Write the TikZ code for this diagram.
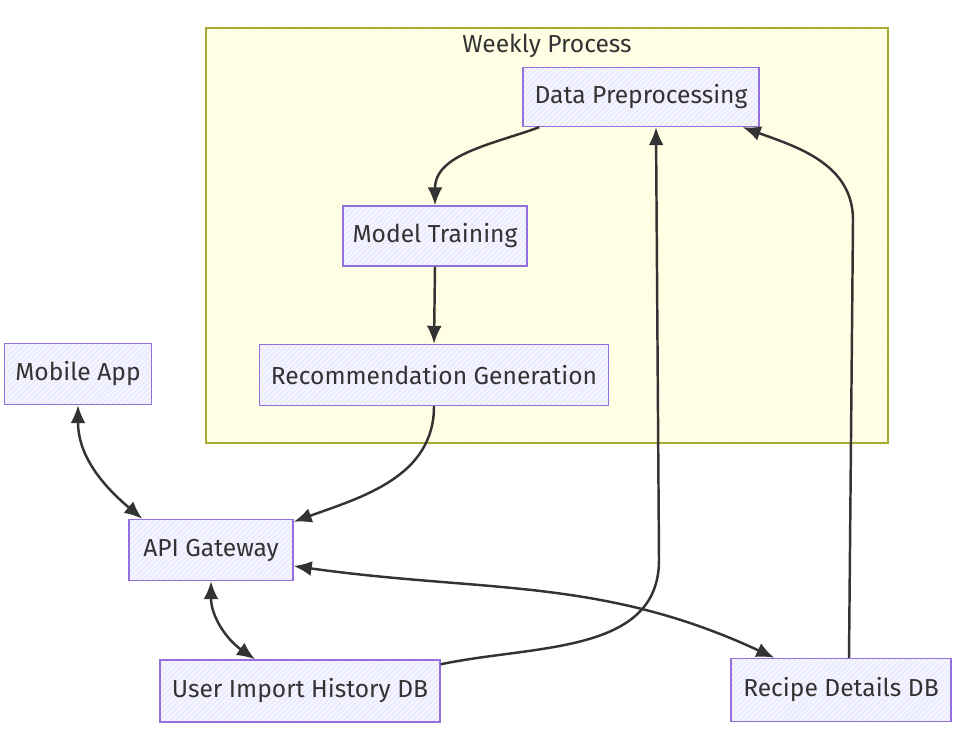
\documentclass[tikz,border=0pt]{standalone}
\usepackage{fontspec}
\setmainfont{Fira Sans}
\usetikzlibrary{%
  arrows.meta,%
  calc,%
  patterns%
}
\definecolor{boxfill}{HTML}{ECECFF}
\definecolor{boxline}{HTML}{9370DB}
\definecolor{clusterfill}{HTML}{FFFFDE}
\definecolor{clusterline}{HTML}{AAAA33}
\definecolor{ink}{HTML}{333333}
\tikzset{>={Latex[length=3.6mm,width=3mm]}, flowbox/.style = {draw=boxline, line width=0.8pt,
	    preaction={fill=boxfill}, pattern=north east lines, pattern color=white,
	    text=ink, font=\fontsize{14}{16}\selectfont, inner sep=0pt},%
		flow/.style={draw=ink, line width=1.4pt}}

\begin{document}
\begin{tikzpicture}[x=0.02cm,y=-0.02cm]
          \useasboundingbox (0,0) rectangle (963,751);
          \draw[clusterline,line width=1.1pt,preaction={fill=clusterfill},
          pattern=north east lines,pattern color=white] (206,28) rectangle (888,443);
          \node[text=ink,font=\fontsize{14}{16}\selectfont] (title) at (547,46) {Weekly Process};
          \node[flowbox,minimum width=4.72cm,minimum height=1.18cm] (dp) at (641,97) {Data Preprocessing};
          \node[flowbox,minimum width=3.68cm,minimum height=1.2cm] (mt) at (435,236) {Model Training};
          \node[flowbox,minimum width=6.98cm,minimum height=1.22cm] (rg) at (434,375) {Recommendation Generation};
          \node[flowbox,minimum width=2.94cm,minimum height=1.22cm] (ma) at (78,374) {Mobile App};
          \node[flowbox,minimum width=3.28cm,minimum height=1.22cm] (ag) at (211,550) {API Gateway};
          \node[flowbox,minimum width=5.6cm,minimum height=1.24cm] (uih) at (300,691) {User Import History DB};
          \node[flowbox,minimum width=4.4cm,minimum height=1.26cm] (rd) at (841,690) {Recipe Details DB};
          \draw[flow,->] ([xshift=0.34cm]dp.south west) to[out=200,in=90] (mt.north);
          \draw[flow,->] (mt.south) -- (rg.north);
          \draw[flow,->] (rg.south) to[out=-90,in=20] ([yshift=-0.06cm]ag.north east);
          \draw[flow,<->] (ma.south) to[out=-90,in=140] ([xshift=0.28cm]ag.north west);
          \draw[flow,<->] (ag.south) to[out=-90,in=145] ([xshift=-0.9cm]uih.north);
          \draw[flow,<->] ([yshift=-0.32cm]ag.east) to[out=-8,in=155] ([xshift=0.88cm]rd.north west);
          \draw[flow,->] ([yshift=-0.1cm]uih.north east) to[out=12,in=-90] (659,560)
          -- ([xshift=0.3cm]dp.south);
          \draw[flow,->] ([xshift=0.16cm]rd.north) -- (853,220)
          to[out=90,in=-20] ([xshift=-0.34cm]dp.south east);
        \end{tikzpicture}
\end{document}
